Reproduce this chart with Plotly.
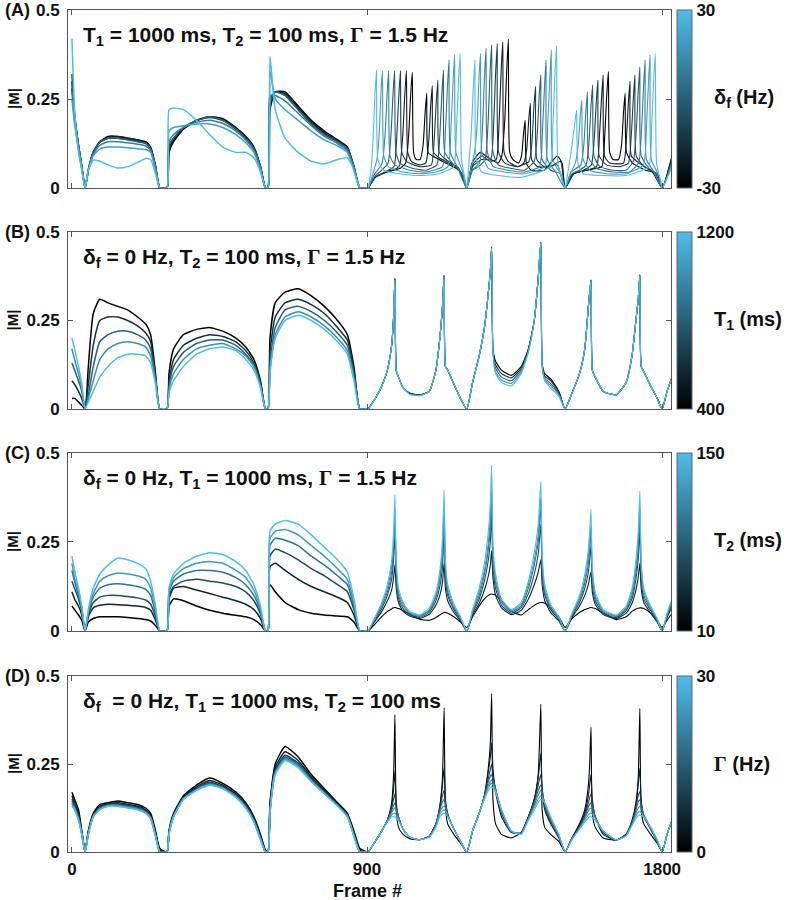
import plotly.graph_objects as go

# ---------------- shared frame grids ----------------
FRAMES_L = [0, 8, 20, 30, 40, 50, 65, 85, 110, 140, 170, 200, 225, 240, 255, 268, 290, 296, 310, 340,
            380, 420, 460, 500, 530, 555, 575, 590, 598, 604, 620, 650, 690, 730, 770, 810, 840, 860, 878, 900]
FRAMES_R = [904, 925, 945, 962, 975, 981, 985, 989, 996, 1010, 1030, 1060, 1090, 1110, 1122, 1130, 1135, 1139, 1146, 1165,
            1185, 1204, 1222, 1242, 1258, 1270, 1276, 1280, 1284, 1292, 1310, 1340, 1370, 1392, 1410, 1422, 1430, 1434, 1442, 1460,
            1485, 1504, 1525, 1548, 1564, 1575, 1579, 1583, 1587, 1596, 1620, 1660, 1690, 1708, 1720, 1727, 1732, 1736, 1744, 1765,
            1785, 1800, 1815, 1830]

# ---------------- Panel A : delta_f (Hz) ----------------
A_DF = [-30, -20, -10, 0, 10, 20, 30]
A_L_M30 = [0.28, 0.2, 0.12, 0.06, 0.0, 0.05, 0.1, 0.13, 0.145, 0.145, 0.14, 0.135, 0.13, 0.115, 0.06, 0.0, 0.0, 0.1, 0.13, 0.165, 0.19, 0.2, 0.195, 0.17, 0.145, 0.115, 0.06, 0.0, 0.0, 0.22, 0.27, 0.27, 0.23, 0.19, 0.16, 0.135, 0.115, 0.06, 0.0, 0.0]
A_L_M20 = [0.3, 0.21, 0.12, 0.06, 0.0, 0.05, 0.1, 0.13, 0.14, 0.145, 0.14, 0.135, 0.128, 0.113, 0.06, 0.0, 0.0, 0.11, 0.135, 0.168, 0.19, 0.2, 0.192, 0.168, 0.142, 0.112, 0.06, 0.0, 0.0, 0.23, 0.27, 0.265, 0.225, 0.185, 0.155, 0.132, 0.112, 0.06, 0.0, 0.0]
A_L_M10 = [0.32, 0.2, 0.11, 0.055, 0.0, 0.05, 0.1, 0.128, 0.14, 0.14, 0.137, 0.132, 0.126, 0.11, 0.058, 0.0, 0.0, 0.12, 0.14, 0.17, 0.19, 0.198, 0.19, 0.165, 0.14, 0.11, 0.058, 0.0, 0.0, 0.25, 0.27, 0.26, 0.22, 0.18, 0.15, 0.13, 0.11, 0.058, 0.0, 0.0]
A_L_0 = [0.3, 0.2, 0.12, 0.06, 0.0, 0.05, 0.1, 0.13, 0.14, 0.14, 0.135, 0.13, 0.125, 0.11, 0.06, 0.0, 0.0, 0.12, 0.14, 0.17, 0.19, 0.2, 0.19, 0.165, 0.14, 0.11, 0.06, 0.0, 0.0, 0.24, 0.27, 0.26, 0.22, 0.18, 0.15, 0.13, 0.11, 0.06, 0.0, 0.0]
A_L_P10 = [0.27, 0.19, 0.12, 0.06, 0.0, 0.05, 0.095, 0.12, 0.13, 0.13, 0.127, 0.123, 0.118, 0.105, 0.055, 0.0, 0.0, 0.13, 0.15, 0.17, 0.185, 0.19, 0.182, 0.16, 0.135, 0.105, 0.055, 0.0, 0.0, 0.26, 0.26, 0.245, 0.21, 0.175, 0.145, 0.125, 0.105, 0.055, 0.0, 0.0]
A_L_P20 = [0.25, 0.18, 0.11, 0.055, 0.0, 0.05, 0.09, 0.11, 0.115, 0.115, 0.113, 0.11, 0.108, 0.1, 0.05, 0.0, 0.0, 0.16, 0.17, 0.175, 0.18, 0.18, 0.17, 0.15, 0.127, 0.1, 0.05, 0.0, 0.0, 0.33, 0.25, 0.22, 0.19, 0.16, 0.135, 0.118, 0.1, 0.05, 0.0, 0.0]
A_L_P30 = [0.42, 0.22, 0.1, 0.05, 0.0, 0.05, 0.078, 0.075, 0.065, 0.056, 0.06, 0.072, 0.083, 0.08, 0.04, 0.0, 0.0, 0.22, 0.225, 0.22, 0.19, 0.15, 0.115, 0.1, 0.1, 0.085, 0.045, 0.0, 0.0, 0.37, 0.22, 0.14, 0.1, 0.075, 0.068, 0.08, 0.085, 0.05, 0.0, 0.0]

A_R_M30 = [[904, 0], [925, 0.03], [960, 0.045], [1000, 0.055], [1018, 0.07], [1027, 0.15], [1033, 0.26], [1038, 0.325], [1042, 0.1], [1050, 0.08], [1062, 0.08], [1071, 0.12], [1077, 0.21], [1082, 0.266], [1086, 0.1], [1100, 0.09], [1140, 0.07], [1180, 0.05], [1204, 0], [1220, 0.07], [1245, 0.1], [1270, 0.085], [1300, 0.07], [1311, 0.09], [1320, 0.19], [1326, 0.33], [1331, 0.418], [1335, 0.1], [1345, 0.08], [1362, 0.07], [1371, 0.09], [1377, 0.15], [1382, 0.19], [1386, 0.07], [1400, 0.05], [1440, 0.05], [1480, 0.09], [1495, 0.07], [1504, 0], [1530, 0.04], [1570, 0.05], [1616, 0.06], [1625, 0.15], [1631, 0.26], [1636, 0.327], [1640, 0.1], [1650, 0.08], [1667, 0.08], [1676, 0.12], [1682, 0.21], [1687, 0.266], [1691, 0.1], [1710, 0.07], [1750, 0.05], [1785, 0.04], [1800, 0], [1830, 0.09]]
A_R_M20 = [[904, 0], [925, 0.03], [960, 0.045], [990, 0.055], [1000, 0.065], [1009, 0.15], [1015, 0.26], [1020, 0.33], [1024, 0.1], [1035, 0.075], [1060, 0.065], [1079, 0.07], [1088, 0.13], [1094, 0.23], [1099, 0.287], [1103, 0.1], [1120, 0.085], [1160, 0.065], [1190, 0.04], [1204, 0], [1222, 0.065], [1250, 0.09], [1275, 0.075], [1294, 0.08], [1303, 0.19], [1309, 0.33], [1314, 0.411], [1318, 0.1], [1330, 0.075], [1360, 0.06], [1378, 0.07], [1387, 0.11], [1393, 0.19], [1398, 0.238], [1402, 0.08], [1420, 0.06], [1460, 0.06], [1490, 0.075], [1504, 0], [1530, 0.04], [1570, 0.05], [1600, 0.06], [1609, 0.15], [1615, 0.25], [1620, 0.317], [1624, 0.09], [1640, 0.07], [1682, 0.07], [1691, 0.14], [1697, 0.24], [1702, 0.3], [1706, 0.09], [1730, 0.07], [1770, 0.045], [1800, 0], [1830, 0.085]]
A_R_M10 = [[904, 0], [925, 0.03], [955, 0.045], [982, 0.06], [991, 0.15], [997, 0.26], [1002, 0.33], [1006, 0.1], [1020, 0.075], [1060, 0.06], [1096, 0.065], [1105, 0.14], [1111, 0.24], [1116, 0.303], [1120, 0.1], [1140, 0.08], [1180, 0.055], [1204, 0], [1222, 0.06], [1250, 0.08], [1277, 0.08], [1286, 0.18], [1292, 0.32], [1297, 0.406], [1301, 0.1], [1320, 0.07], [1360, 0.06], [1394, 0.075], [1403, 0.13], [1409, 0.23], [1414, 0.285], [1418, 0.08], [1440, 0.06], [1480, 0.065], [1504, 0], [1530, 0.04], [1560, 0.05], [1584, 0.065], [1593, 0.14], [1599, 0.24], [1604, 0.303], [1608, 0.09], [1630, 0.065], [1670, 0.06], [1697, 0.07], [1706, 0.15], [1712, 0.25], [1717, 0.317], [1721, 0.09], [1745, 0.06], [1780, 0.04], [1800, 0], [1830, 0.08]]
A_R_0 = [[904, 0], [925, 0.035], [945, 0.05], [964, 0.07], [973, 0.15], [979, 0.26], [984, 0.33], [988, 0.1], [1000, 0.07], [1040, 0.055], [1080, 0.05], [1113, 0.065], [1122, 0.15], [1128, 0.26], [1133, 0.331], [1137, 0.1], [1160, 0.07], [1190, 0.04], [1204, 0], [1222, 0.05], [1240, 0.06], [1260, 0.08], [1269, 0.18], [1275, 0.32], [1280, 0.402], [1284, 0.1], [1300, 0.065], [1340, 0.055], [1380, 0.05], [1410, 0.075], [1419, 0.15], [1425, 0.26], [1430, 0.317], [1434, 0.08], [1460, 0.05], [1490, 0.04], [1504, 0], [1525, 0.04], [1548, 0.05], [1568, 0.065], [1577, 0.13], [1583, 0.23], [1588, 0.289], [1592, 0.09], [1610, 0.06], [1650, 0.05], [1690, 0.05], [1712, 0.075], [1721, 0.16], [1727, 0.27], [1732, 0.34], [1736, 0.09], [1760, 0.055], [1790, 0.035], [1800, 0], [1830, 0.075]]
A_R_P10 = [[904, 0], [920, 0.035], [946, 0.07], [955, 0.15], [961, 0.26], [966, 0.33], [970, 0.09], [985, 0.065], [1030, 0.05], [1080, 0.045], [1130, 0.06], [1139, 0.16], [1145, 0.28], [1150, 0.36], [1154, 0.1], [1175, 0.06], [1204, 0], [1220, 0.05], [1243, 0.07], [1252, 0.17], [1258, 0.31], [1263, 0.392], [1267, 0.1], [1285, 0.06], [1330, 0.05], [1380, 0.045], [1426, 0.06], [1435, 0.16], [1441, 0.28], [1446, 0.36], [1450, 0.08], [1475, 0.045], [1504, 0], [1522, 0.045], [1552, 0.065], [1561, 0.12], [1567, 0.21], [1572, 0.27], [1576, 0.085], [1600, 0.055], [1650, 0.045], [1700, 0.045], [1728, 0.07], [1737, 0.16], [1743, 0.28], [1748, 0.36], [1752, 0.08], [1775, 0.045], [1800, 0], [1830, 0.07]]
A_R_P20 = [[904, 0], [918, 0.04], [930, 0.08], [937, 0.15], [942, 0.26], [947, 0.33], [951, 0.09], [965, 0.06], [1010, 0.045], [1060, 0.04], [1110, 0.045], [1147, 0.06], [1156, 0.17], [1162, 0.29], [1167, 0.374], [1171, 0.1], [1190, 0.05], [1204, 0], [1216, 0.05], [1228, 0.1], [1236, 0.18], [1241, 0.3], [1246, 0.378], [1250, 0.1], [1270, 0.055], [1320, 0.045], [1380, 0.04], [1442, 0.06], [1451, 0.18], [1457, 0.3], [1462, 0.388], [1466, 0.08], [1490, 0.04], [1504, 0], [1520, 0.04], [1535, 0.07], [1544, 0.12], [1550, 0.2], [1555, 0.247], [1559, 0.08], [1580, 0.05], [1630, 0.04], [1690, 0.04], [1743, 0.065], [1752, 0.17], [1758, 0.29], [1763, 0.374], [1767, 0.08], [1790, 0.035], [1800, 0], [1830, 0.065]]
A_R_P30 = [[904, 0], [912, 0.05], [918, 0.13], [924, 0.26], [929, 0.331], [933, 0.08], [950, 0.05], [1000, 0.04], [1060, 0.035], [1120, 0.04], [1164, 0.06], [1173, 0.17], [1179, 0.3], [1184, 0.378], [1188, 0.08], [1198, 0.03], [1204, 0], [1210, 0.06], [1218, 0.16], [1224, 0.28], [1229, 0.36], [1233, 0.08], [1250, 0.045], [1300, 0.035], [1370, 0.03], [1458, 0.06], [1467, 0.18], [1473, 0.32], [1478, 0.4], [1482, 0.07], [1496, 0.02], [1504, 0], [1512, 0.04], [1522, 0.1], [1532, 0.17], [1539, 0.219], [1543, 0.07], [1560, 0.04], [1620, 0.035], [1690, 0.035], [1759, 0.06], [1768, 0.17], [1774, 0.3], [1779, 0.378], [1783, 0.07], [1795, 0.02], [1800, 0], [1830, 0.06]]

# ---------------- Panel B : T1 (ms) ----------------
B_T1 = [400, 600, 800, 1000, 1200]
B_L_400 = [0.03, 0.03, 0.02, 0.01, 0.0, 0.12, 0.27, 0.31, 0.3, 0.29, 0.28, 0.26, 0.24, 0.21, 0.1, 0.0, 0.0, 0.1, 0.17, 0.21, 0.225, 0.23, 0.22, 0.2, 0.175, 0.14, 0.08, 0.0, 0.0, 0.2, 0.3, 0.33, 0.34, 0.32, 0.29, 0.25, 0.21, 0.12, 0.0, 0.0]
B_L_600 = [0.08, 0.07, 0.05, 0.03, 0.0, 0.07, 0.18, 0.25, 0.26, 0.26, 0.25, 0.235, 0.215, 0.19, 0.09, 0.0, 0.0, 0.08, 0.14, 0.18, 0.2, 0.21, 0.205, 0.19, 0.165, 0.13, 0.075, 0.0, 0.0, 0.16, 0.26, 0.3, 0.31, 0.295, 0.27, 0.23, 0.195, 0.11, 0.0, 0.0]
B_L_800 = [0.13, 0.11, 0.08, 0.05, 0.0, 0.04, 0.12, 0.19, 0.21, 0.22, 0.22, 0.21, 0.195, 0.17, 0.085, 0.0, 0.0, 0.065, 0.12, 0.16, 0.185, 0.195, 0.195, 0.18, 0.155, 0.125, 0.07, 0.0, 0.0, 0.13, 0.23, 0.28, 0.29, 0.275, 0.25, 0.215, 0.18, 0.1, 0.0, 0.0]
B_L_1000 = [0.17, 0.14, 0.1, 0.06, 0.0, 0.03, 0.08, 0.14, 0.17, 0.185, 0.19, 0.185, 0.175, 0.15, 0.08, 0.0, 0.0, 0.055, 0.1, 0.14, 0.17, 0.18, 0.185, 0.17, 0.15, 0.12, 0.065, 0.0, 0.0, 0.11, 0.21, 0.26, 0.275, 0.26, 0.235, 0.2, 0.165, 0.09, 0.0, 0.0]
B_L_1200 = [0.2, 0.17, 0.12, 0.07, 0.0, 0.02, 0.05, 0.09, 0.12, 0.145, 0.155, 0.155, 0.15, 0.13, 0.07, 0.0, 0.0, 0.045, 0.08, 0.12, 0.155, 0.17, 0.175, 0.165, 0.14, 0.11, 0.06, 0.0, 0.0, 0.1, 0.2, 0.25, 0.265, 0.25, 0.225, 0.19, 0.155, 0.08, 0.0, 0.0]

B_R_400 = [0, 0.03, 0.065, 0.11, 0.18, 0.26, 0.37, 0.11, 0.09, 0.06, 0.045, 0.04, 0.05, 0.11, 0.2, 0.29, 0.378, 0.12, 0.11, 0.07, 0.03, 0, 0.075, 0.15, 0.23, 0.33, 0.39, 0.458, 0.17, 0.135, 0.11, 0.095, 0.12, 0.17, 0.25, 0.37, 0.472, 0.13, 0.1, 0.085, 0.05, 0, 0.045, 0.1, 0.17, 0.29, 0.33, 0.365, 0.11, 0.09, 0.05, 0.04, 0.075, 0.15, 0.25, 0.31, 0.38, 0.12, 0.105, 0.065, 0.03, 0, 0.05, 0.09]
B_R_600 = [0, 0.03, 0.065, 0.11, 0.18, 0.26, 0.368, 0.11, 0.09, 0.06, 0.044, 0.04, 0.05, 0.11, 0.2, 0.29, 0.377, 0.12, 0.11, 0.07, 0.03, 0, 0.075, 0.15, 0.23, 0.33, 0.39, 0.457, 0.166, 0.125, 0.1, 0.088, 0.115, 0.168, 0.25, 0.37, 0.471, 0.127, 0.093, 0.08, 0.047, 0, 0.045, 0.1, 0.17, 0.29, 0.33, 0.364, 0.11, 0.09, 0.05, 0.04, 0.075, 0.15, 0.25, 0.31, 0.379, 0.12, 0.105, 0.065, 0.03, 0, 0.05, 0.09]
B_R_800 = [0, 0.03, 0.065, 0.11, 0.18, 0.26, 0.367, 0.11, 0.09, 0.06, 0.043, 0.039, 0.05, 0.11, 0.2, 0.29, 0.376, 0.12, 0.11, 0.07, 0.03, 0, 0.075, 0.15, 0.23, 0.33, 0.39, 0.456, 0.163, 0.115, 0.09, 0.08, 0.11, 0.165, 0.25, 0.37, 0.471, 0.125, 0.087, 0.072, 0.043, 0, 0.045, 0.1, 0.17, 0.29, 0.33, 0.363, 0.11, 0.09, 0.05, 0.04, 0.075, 0.15, 0.25, 0.31, 0.378, 0.12, 0.105, 0.065, 0.03, 0, 0.05, 0.09]
B_R_1000 = [0, 0.03, 0.065, 0.11, 0.18, 0.26, 0.366, 0.11, 0.09, 0.06, 0.042, 0.038, 0.05, 0.11, 0.2, 0.29, 0.375, 0.12, 0.11, 0.07, 0.03, 0, 0.075, 0.15, 0.23, 0.33, 0.39, 0.455, 0.161, 0.105, 0.082, 0.072, 0.105, 0.163, 0.25, 0.37, 0.47, 0.122, 0.083, 0.066, 0.04, 0, 0.045, 0.1, 0.17, 0.29, 0.33, 0.362, 0.11, 0.09, 0.05, 0.04, 0.075, 0.15, 0.25, 0.31, 0.377, 0.12, 0.105, 0.065, 0.03, 0, 0.05, 0.09]
B_R_1200 = [0, 0.03, 0.065, 0.11, 0.18, 0.26, 0.365, 0.11, 0.09, 0.06, 0.042, 0.038, 0.05, 0.11, 0.2, 0.29, 0.375, 0.12, 0.11, 0.07, 0.03, 0, 0.075, 0.15, 0.23, 0.33, 0.39, 0.455, 0.16, 0.1, 0.075, 0.065, 0.1, 0.16, 0.25, 0.37, 0.47, 0.12, 0.08, 0.06, 0.035, 0, 0.045, 0.1, 0.17, 0.29, 0.33, 0.362, 0.11, 0.09, 0.05, 0.04, 0.075, 0.15, 0.25, 0.31, 0.377, 0.12, 0.105, 0.065, 0.03, 0, 0.05, 0.09]

# ---------------- Panel C : T2 (ms) ----------------
C_T2 = [10, 38, 66, 94, 122, 150]
C_L_10 = [0.07, 0.06, 0.045, 0.03, 0.0, 0.025, 0.035, 0.04, 0.04, 0.04, 0.038, 0.035, 0.032, 0.028, 0.015, 0.0, 0.0, 0.07, 0.09, 0.085, 0.07, 0.058, 0.05, 0.044, 0.04, 0.032, 0.018, 0.0, 0.0, 0.13, 0.11, 0.08, 0.06, 0.05, 0.045, 0.042, 0.04, 0.025, 0.0, 0.0]
C_L_38 = [0.11, 0.09, 0.07, 0.045, 0.0, 0.04, 0.065, 0.072, 0.075, 0.074, 0.072, 0.07, 0.066, 0.058, 0.03, 0.0, 0.0, 0.09, 0.12, 0.125, 0.115, 0.105, 0.095, 0.085, 0.075, 0.06, 0.035, 0.0, 0.0, 0.18, 0.19, 0.17, 0.145, 0.125, 0.11, 0.095, 0.08, 0.045, 0.0, 0.0]
C_L_66 = [0.14, 0.12, 0.09, 0.055, 0.0, 0.045, 0.08, 0.095, 0.1, 0.1, 0.097, 0.093, 0.087, 0.075, 0.04, 0.0, 0.0, 0.1, 0.125, 0.14, 0.145, 0.14, 0.135, 0.125, 0.11, 0.085, 0.047, 0.0, 0.0, 0.21, 0.23, 0.22, 0.2, 0.175, 0.155, 0.13, 0.11, 0.06, 0.0, 0.0]
C_L_94 = [0.17, 0.14, 0.1, 0.06, 0.0, 0.05, 0.095, 0.12, 0.13, 0.133, 0.13, 0.125, 0.117, 0.1, 0.05, 0.0, 0.0, 0.11, 0.14, 0.16, 0.17, 0.17, 0.165, 0.15, 0.13, 0.1, 0.055, 0.0, 0.0, 0.24, 0.26, 0.255, 0.24, 0.21, 0.185, 0.155, 0.13, 0.07, 0.0, 0.0]
C_L_122 = [0.19, 0.15, 0.11, 0.065, 0.0, 0.055, 0.105, 0.14, 0.155, 0.163, 0.16, 0.155, 0.145, 0.12, 0.06, 0.0, 0.0, 0.115, 0.15, 0.175, 0.19, 0.195, 0.19, 0.17, 0.15, 0.115, 0.062, 0.0, 0.0, 0.26, 0.28, 0.285, 0.27, 0.24, 0.21, 0.175, 0.145, 0.08, 0.0, 0.0]
C_L_150 = [0.21, 0.17, 0.12, 0.07, 0.0, 0.06, 0.12, 0.16, 0.185, 0.205, 0.2, 0.19, 0.175, 0.14, 0.07, 0.0, 0.0, 0.12, 0.16, 0.19, 0.21, 0.22, 0.215, 0.195, 0.17, 0.13, 0.07, 0.0, 0.0, 0.28, 0.3, 0.31, 0.3, 0.27, 0.235, 0.2, 0.165, 0.09, 0.0, 0.0]

C_R_10 = [0, 0.02, 0.04, 0.055, 0.062, 0.065, 0.066, 0.065, 0.063, 0.057, 0.047, 0.033, 0.03, 0.038, 0.045, 0.05, 0.052, 0.052, 0.05, 0.04, 0.025, 0.01, 0.04, 0.07, 0.09, 0.1, 0.103, 0.104, 0.103, 0.1, 0.085, 0.055, 0.045, 0.06, 0.072, 0.078, 0.08, 0.08, 0.078, 0.065, 0.04, 0.01, 0.035, 0.052, 0.06, 0.064, 0.065, 0.066, 0.065, 0.063, 0.05, 0.032, 0.04, 0.055, 0.062, 0.064, 0.065, 0.065, 0.063, 0.05, 0.03, 0.01, 0.03, 0.05]
C_R_38 = [0, 0.028, 0.055, 0.085, 0.115, 0.15, 0.185, 0.12, 0.08, 0.055, 0.042, 0.035, 0.047, 0.072, 0.1, 0.135, 0.19, 0.12, 0.085, 0.052, 0.028, 0, 0.045, 0.078, 0.115, 0.155, 0.185, 0.225, 0.15, 0.1, 0.065, 0.046, 0.058, 0.09, 0.13, 0.165, 0.2, 0.13, 0.085, 0.052, 0.028, 0, 0.038, 0.07, 0.1, 0.13, 0.15, 0.165, 0.11, 0.075, 0.046, 0.035, 0.05, 0.078, 0.115, 0.15, 0.19, 0.12, 0.08, 0.05, 0.025, 0, 0.038, 0.068]
C_R_66 = [0, 0.032, 0.063, 0.1, 0.145, 0.2, 0.27, 0.15, 0.09, 0.063, 0.046, 0.038, 0.052, 0.085, 0.125, 0.18, 0.28, 0.15, 0.1, 0.06, 0.032, 0, 0.05, 0.09, 0.14, 0.2, 0.25, 0.33, 0.18, 0.12, 0.072, 0.05, 0.065, 0.105, 0.16, 0.215, 0.3, 0.16, 0.1, 0.06, 0.032, 0, 0.042, 0.08, 0.12, 0.165, 0.2, 0.24, 0.13, 0.085, 0.05, 0.038, 0.057, 0.09, 0.145, 0.2, 0.28, 0.15, 0.09, 0.057, 0.028, 0, 0.042, 0.075]
C_R_94 = [0, 0.035, 0.07, 0.11, 0.165, 0.23, 0.317, 0.17, 0.1, 0.07, 0.05, 0.041, 0.057, 0.095, 0.145, 0.21, 0.33, 0.17, 0.11, 0.065, 0.035, 0, 0.054, 0.1, 0.16, 0.23, 0.29, 0.38, 0.2, 0.135, 0.08, 0.054, 0.07, 0.12, 0.185, 0.25, 0.35, 0.18, 0.11, 0.065, 0.035, 0, 0.045, 0.088, 0.135, 0.19, 0.23, 0.28, 0.15, 0.095, 0.054, 0.041, 0.062, 0.1, 0.165, 0.23, 0.325, 0.17, 0.1, 0.062, 0.031, 0, 0.045, 0.08]
C_R_122 = [0, 0.037, 0.075, 0.12, 0.18, 0.25, 0.34, 0.18, 0.11, 0.075, 0.052, 0.043, 0.06, 0.1, 0.155, 0.23, 0.35, 0.18, 0.12, 0.07, 0.037, 0, 0.057, 0.11, 0.17, 0.25, 0.32, 0.41, 0.22, 0.145, 0.085, 0.057, 0.075, 0.13, 0.2, 0.27, 0.375, 0.2, 0.12, 0.07, 0.037, 0, 0.047, 0.093, 0.145, 0.21, 0.25, 0.3, 0.16, 0.1, 0.057, 0.043, 0.065, 0.11, 0.18, 0.25, 0.35, 0.18, 0.11, 0.065, 0.033, 0, 0.047, 0.085]
C_R_150 = [0, 0.04, 0.08, 0.13, 0.2, 0.28, 0.384, 0.2, 0.12, 0.08, 0.055, 0.045, 0.065, 0.11, 0.17, 0.26, 0.395, 0.2, 0.13, 0.075, 0.04, 0, 0.06, 0.12, 0.19, 0.28, 0.36, 0.466, 0.25, 0.16, 0.09, 0.06, 0.08, 0.14, 0.22, 0.3, 0.42, 0.22, 0.13, 0.075, 0.04, 0, 0.05, 0.1, 0.16, 0.23, 0.28, 0.342, 0.18, 0.11, 0.06, 0.045, 0.07, 0.12, 0.2, 0.28, 0.393, 0.2, 0.12, 0.07, 0.035, 0, 0.05, 0.09]

# ---------------- Panel D : Gamma (Hz) ----------------
D_G = [0, 5, 10, 15, 20, 25, 30]
D_L_0 = [0.17, 0.15, 0.12, 0.06, 0.0, 0.06, 0.11, 0.135, 0.14, 0.145, 0.14, 0.135, 0.125, 0.11, 0.06, 0.01, 0.0, 0.06, 0.11, 0.16, 0.19, 0.21, 0.195, 0.17, 0.14, 0.1, 0.05, 0.005, 0.0, 0.14, 0.25, 0.3, 0.27, 0.22, 0.18, 0.14, 0.11, 0.06, 0.01, 0.0]
D_L_5 = [0.16, 0.14, 0.11, 0.058, 0.0, 0.058, 0.105, 0.13, 0.137, 0.14, 0.135, 0.13, 0.12, 0.105, 0.055, 0.005, 0.0, 0.057, 0.106, 0.156, 0.185, 0.203, 0.19, 0.165, 0.135, 0.095, 0.045, 0.003, 0.0, 0.13, 0.24, 0.285, 0.26, 0.213, 0.175, 0.137, 0.107, 0.055, 0.005, 0.0]
D_L_10 = [0.15, 0.135, 0.1, 0.055, 0.0, 0.055, 0.103, 0.127, 0.135, 0.137, 0.132, 0.127, 0.117, 0.1, 0.05, 0.0, 0.0, 0.055, 0.104, 0.154, 0.181, 0.198, 0.186, 0.162, 0.132, 0.092, 0.042, 0.0, 0.0, 0.12, 0.232, 0.275, 0.253, 0.208, 0.171, 0.134, 0.104, 0.05, 0.0, 0.0]
D_L_15 = [0.145, 0.13, 0.097, 0.053, 0.0, 0.053, 0.102, 0.125, 0.133, 0.135, 0.13, 0.125, 0.115, 0.098, 0.048, 0.0, 0.0, 0.053, 0.102, 0.152, 0.179, 0.195, 0.184, 0.16, 0.13, 0.09, 0.04, 0.0, 0.0, 0.117, 0.228, 0.27, 0.249, 0.205, 0.169, 0.133, 0.103, 0.048, 0.0, 0.0]
D_L_20 = [0.14, 0.125, 0.095, 0.052, 0.0, 0.052, 0.101, 0.123, 0.132, 0.133, 0.128, 0.123, 0.113, 0.097, 0.047, 0.0, 0.0, 0.052, 0.101, 0.151, 0.177, 0.193, 0.182, 0.158, 0.128, 0.088, 0.038, 0.0, 0.0, 0.114, 0.225, 0.266, 0.246, 0.203, 0.167, 0.132, 0.102, 0.047, 0.0, 0.0]
D_L_25 = [0.135, 0.122, 0.092, 0.051, 0.0, 0.051, 0.1, 0.121, 0.131, 0.131, 0.126, 0.121, 0.111, 0.096, 0.046, 0.0, 0.0, 0.051, 0.1, 0.15, 0.176, 0.191, 0.181, 0.156, 0.126, 0.086, 0.036, 0.0, 0.0, 0.112, 0.222, 0.263, 0.243, 0.201, 0.166, 0.131, 0.101, 0.046, 0.0, 0.0]
D_L_30 = [0.13, 0.12, 0.09, 0.05, 0.0, 0.05, 0.1, 0.12, 0.13, 0.13, 0.125, 0.12, 0.11, 0.095, 0.045, 0.0, 0.0, 0.05, 0.1, 0.15, 0.175, 0.19, 0.18, 0.155, 0.125, 0.085, 0.035, 0.0, 0.0, 0.11, 0.22, 0.26, 0.24, 0.2, 0.165, 0.13, 0.1, 0.045, 0.0, 0.0]

D_R_0 = [0, 0.03, 0.06, 0.09, 0.14, 0.22, 0.39, 0.12, 0.07, 0.05, 0.038, 0.035, 0.045, 0.08, 0.13, 0.21, 0.41, 0.13, 0.08, 0.05, 0.025, 0, 0.06, 0.11, 0.16, 0.24, 0.31, 0.45, 0.15, 0.08, 0.05, 0.04, 0.055, 0.1, 0.15, 0.22, 0.42, 0.12, 0.07, 0.05, 0.03, 0, 0.04, 0.08, 0.12, 0.19, 0.25, 0.355, 0.11, 0.07, 0.04, 0.034, 0.05, 0.09, 0.14, 0.21, 0.408, 0.12, 0.08, 0.05, 0.025, 0, 0.05, 0.09]
D_R_5 = [0, 0.03, 0.06, 0.09, 0.13, 0.18, 0.23, 0.14, 0.1, 0.065, 0.042, 0.035, 0.045, 0.08, 0.13, 0.19, 0.24, 0.15, 0.11, 0.065, 0.03, 0, 0.06, 0.11, 0.16, 0.23, 0.27, 0.31, 0.24, 0.17, 0.1, 0.055, 0.055, 0.1, 0.15, 0.21, 0.28, 0.18, 0.12, 0.08, 0.04, 0, 0.04, 0.075, 0.11, 0.16, 0.19, 0.22, 0.15, 0.1, 0.05, 0.034, 0.05, 0.085, 0.13, 0.19, 0.238, 0.15, 0.1, 0.065, 0.03, 0, 0.05, 0.09]
D_R_10 = [0, 0.03, 0.06, 0.09, 0.125, 0.15, 0.165, 0.13, 0.1, 0.065, 0.042, 0.035, 0.045, 0.08, 0.125, 0.16, 0.175, 0.14, 0.105, 0.065, 0.03, 0, 0.06, 0.11, 0.16, 0.21, 0.235, 0.25, 0.22, 0.18, 0.11, 0.057, 0.054, 0.1, 0.145, 0.19, 0.22, 0.18, 0.13, 0.085, 0.045, 0, 0.04, 0.072, 0.105, 0.14, 0.155, 0.165, 0.14, 0.1, 0.055, 0.034, 0.05, 0.085, 0.125, 0.16, 0.171, 0.14, 0.105, 0.066, 0.03, 0, 0.05, 0.09]
D_R_15 = [0, 0.03, 0.06, 0.09, 0.118, 0.133, 0.14, 0.125, 0.1, 0.065, 0.042, 0.035, 0.045, 0.078, 0.12, 0.143, 0.15, 0.135, 0.105, 0.065, 0.03, 0, 0.06, 0.11, 0.158, 0.2, 0.215, 0.22, 0.205, 0.18, 0.115, 0.058, 0.053, 0.097, 0.14, 0.175, 0.19, 0.175, 0.135, 0.09, 0.046, 0, 0.038, 0.07, 0.1, 0.128, 0.136, 0.14, 0.13, 0.1, 0.058, 0.034, 0.048, 0.082, 0.12, 0.142, 0.148, 0.136, 0.105, 0.068, 0.032, 0, 0.05, 0.09]
D_R_20 = [0, 0.03, 0.06, 0.088, 0.112, 0.122, 0.125, 0.118, 0.097, 0.065, 0.042, 0.035, 0.044, 0.076, 0.115, 0.127, 0.13, 0.126, 0.104, 0.065, 0.03, 0, 0.06, 0.11, 0.156, 0.19, 0.2, 0.205, 0.198, 0.178, 0.118, 0.059, 0.052, 0.095, 0.133, 0.162, 0.175, 0.166, 0.138, 0.093, 0.047, 0, 0.037, 0.068, 0.095, 0.117, 0.123, 0.125, 0.121, 0.097, 0.059, 0.034, 0.047, 0.079, 0.11, 0.125, 0.129, 0.125, 0.104, 0.069, 0.033, 0, 0.05, 0.09]
D_R_25 = [0, 0.03, 0.06, 0.087, 0.105, 0.11, 0.11, 0.106, 0.093, 0.065, 0.042, 0.035, 0.043, 0.073, 0.108, 0.117, 0.12, 0.117, 0.102, 0.065, 0.03, 0, 0.06, 0.11, 0.153, 0.183, 0.192, 0.195, 0.19, 0.174, 0.12, 0.06, 0.051, 0.092, 0.126, 0.15, 0.16, 0.156, 0.139, 0.096, 0.048, 0, 0.036, 0.066, 0.09, 0.105, 0.11, 0.11, 0.108, 0.094, 0.06, 0.034, 0.046, 0.077, 0.102, 0.113, 0.115, 0.113, 0.102, 0.07, 0.034, 0, 0.05, 0.09]
D_R_30 = [0, 0.03, 0.06, 0.085, 0.1, 0.1, 0.1, 0.097, 0.088, 0.065, 0.042, 0.035, 0.042, 0.07, 0.1, 0.108, 0.11, 0.108, 0.1, 0.065, 0.03, 0, 0.06, 0.11, 0.15, 0.175, 0.183, 0.185, 0.182, 0.17, 0.12, 0.06, 0.05, 0.09, 0.12, 0.14, 0.15, 0.148, 0.14, 0.1, 0.05, 0, 0.035, 0.065, 0.085, 0.097, 0.1, 0.1, 0.098, 0.09, 0.06, 0.034, 0.045, 0.075, 0.095, 0.103, 0.105, 0.104, 0.1, 0.07, 0.035, 0, 0.05, 0.09]

# ---------------- assembling ----------------
GAM = "<span style='font-family:Liberation Serif, Times New Roman, serif'>Γ</span>"
PANELS = [
    dict(params=A_DF, left=[A_L_M30, A_L_M20, A_L_M10, A_L_0, A_L_P10, A_L_P20, A_L_P30],
         right=[A_R_M30, A_R_M20, A_R_M10, A_R_0, A_R_P10, A_R_P20, A_R_P30], pairs=True,
         cmin=-30, cmax=30, ticks=["-30", "30"], cbtitle="δ<sub>f</sub> (Hz)", label="(A)",
         text="T<sub>1</sub> = 1000 ms, T<sub>2</sub> = 100 ms, " + GAM + " = 1.5 Hz"),
    dict(params=B_T1, left=[B_L_400, B_L_600, B_L_800, B_L_1000, B_L_1200],
         right=[B_R_400, B_R_600, B_R_800, B_R_1000, B_R_1200], pairs=False,
         cmin=400, cmax=1200, ticks=["400", "1200"], cbtitle="T<sub>1</sub> (ms)", label="(B)",
         text="δ<sub>f</sub> = 0 Hz, T<sub>2</sub> = 100 ms, " + GAM + " = 1.5 Hz"),
    dict(params=C_T2, left=[C_L_10, C_L_38, C_L_66, C_L_94, C_L_122, C_L_150],
         right=[C_R_10, C_R_38, C_R_66, C_R_94, C_R_122, C_R_150], pairs=False,
         cmin=10, cmax=150, ticks=["10", "150"], cbtitle="T<sub>2</sub> (ms)", label="(C)",
         text="δ<sub>f</sub> = 0 Hz, T<sub>1</sub> = 1000 ms, " + GAM + " = 1.5 Hz"),
    dict(params=D_G, left=[D_L_0, D_L_5, D_L_10, D_L_15, D_L_20, D_L_25, D_L_30],
         right=[D_R_0, D_R_5, D_R_10, D_R_15, D_R_20, D_R_25, D_R_30], pairs=False,
         cmin=0, cmax=30, ticks=["0", "30"], cbtitle=GAM + " (Hz)", label="(D)",
         text="δ<sub>f</sub>\u00a0 = 0 Hz, T<sub>1</sub> = 1000 ms, T<sub>2</sub> = 100 ms"),
]

for p in PANELS:
    for lv in p["left"]:
        assert len(lv) == len(FRAMES_L), (p["label"], len(lv))
    if not p["pairs"]:
        for rv in p["right"]:
            assert len(rv) == len(FRAMES_R), (p["label"], len(rv))

C_LO = (0, 0, 0)
C_HI = (77, 190, 235)
CSCALE = [[0, "rgb(0,0,0)"], [1, "rgb(77,190,235)"]]


def shade(t):
    return "rgb(%d,%d,%d)" % tuple(round(a + (b - a) * t) for a, b in zip(C_LO, C_HI))


FONT = "Liberation Sans, Arial, sans-serif"
INK = "#111"
DOMS = [(0.7886, 1.0), (0.5261, 0.7363), (0.2625, 0.4739), (0.0, 0.2090)]
W, H = 788, 900
ML, MR, MT, MB = 68, 117, 10, 48
PW = W - ML - MR
PH = H - MT - MB

fig = go.Figure()
annotations = []
layout = {}

for i, p in enumerate(PANELS):
    n = i + 1
    xa, ya = "x%d" % n, "y%d" % n
    lo, hi = p["cmin"], p["cmax"]
    for val, lv, rv in zip(p["params"], p["left"], p["right"]):
        c = shade((val - lo) / (hi - lo))
        fig.add_trace(go.Scatter(x=FRAMES_L, y=lv, mode="lines",
                                 line=dict(color=c, width=1.5, shape="spline", smoothing=0.5),
                                 xaxis=xa, yaxis=ya, showlegend=False, hoverinfo="skip"))
        if p["pairs"]:
            rx = [q[0] for q in rv]
            ry = [q[1] for q in rv]
        else:
            rx, ry = FRAMES_R, rv
        fig.add_trace(go.Scatter(x=rx, y=ry, mode="lines",
                                 line=dict(color=c, width=1.1, shape="spline", smoothing=0.5),
                                 xaxis=xa, yaxis=ya, showlegend=False, hoverinfo="skip"))
    d0, d1 = DOMS[i]
    # colour bar
    fig.add_trace(go.Scatter(
        x=[-500, -500], y=[-1, -1], mode="markers", xaxis=xa, yaxis=ya, showlegend=False, hoverinfo="skip",
        marker=dict(size=1, opacity=0, color=[lo, hi], cmin=lo, cmax=hi, colorscale=CSCALE, showscale=True,
                    colorbar=dict(x=1.01, xanchor="left", xpad=0, y=(d0 + d1) / 2, yanchor="middle",
                                  len=d1 - d0, lenmode="fraction", ypad=0, thickness=15,
                                  outlinewidth=1, outlinecolor="#666",
                                  tickvals=[lo, hi], ticktext=p["ticks"], ticks="",
                                  tickfont=dict(family=FONT, size=17, color=INK, weight="bold"))),
    ))
    axis_common = dict(showline=True, linecolor="#555", linewidth=1, mirror="ticks", ticks="inside",
                       ticklen=5, tickcolor="#555", showgrid=False, zeroline=False,
                       tickfont=dict(family=FONT, size=17, color=INK, weight="bold"))
    layout["xaxis%d" % n] = dict(axis_common, domain=[0, 1], range=[-12, 1827], tickvals=[0, 900, 1800],
                                 anchor=ya, showticklabels=(n == 4), ticklabelstandoff=2)
    layout["yaxis%d" % n] = dict(axis_common, domain=[d0, d1], range=[0, 0.5], tickvals=[0, 0.25, 0.5],
                                 ticktext=["0", "0.25", "0.5"], anchor=xa, ticklabelstandoff=4)
    # panel label
    annotations.append(dict(text=p["label"], xref="paper", yref="paper", x=-65 / PW, y=d1,
                            xanchor="left", yanchor="middle", showarrow=False,
                            font=dict(family=FONT, size=18, color=INK, weight="bold")))
    # |M|
    annotations.append(dict(text="|M|", xref="paper", yref=ya, x=-55 / PW, y=0.25, textangle=-90,
                            xanchor="center", yanchor="middle", showarrow=False,
                            font=dict(family=FONT, size=15, color=INK, weight="bold")))
    # parameter text
    annotations.append(dict(text=p["text"], xref="paper", yref="paper", x=13 / PW, y=d1, yshift=-26,
                            xanchor="left", yanchor="middle", showarrow=False,
                            font=dict(family=FONT, size=21, color=INK, weight="bold")))
    # colourbar title
    annotations.append(dict(text=p["cbtitle"], xref="paper", yref="paper", x=(712 - ML) / PW, y=(d0 + d1) / 2,
                            xanchor="left", yanchor="middle", showarrow=False,
                            font=dict(family=FONT, size=20, color=INK, weight="bold")))

annotations.append(dict(text="Frame #", xref="x4", yref="paper", x=900, y=0, yshift=-39,
                        xanchor="center", yanchor="middle", showarrow=False,
                        font=dict(family=FONT, size=18, color=INK, weight="bold")))

fig.update_layout(width=W, height=H, margin=dict(l=ML, r=MR, t=MT, b=MB, autoexpand=False),
                  paper_bgcolor="white", plot_bgcolor="white", annotations=annotations, **layout)

fig.write_html("out.html", config={"displayModeBar": False},
               post_script="document.body.style.margin='0';document.body.style.overflow='hidden';")
